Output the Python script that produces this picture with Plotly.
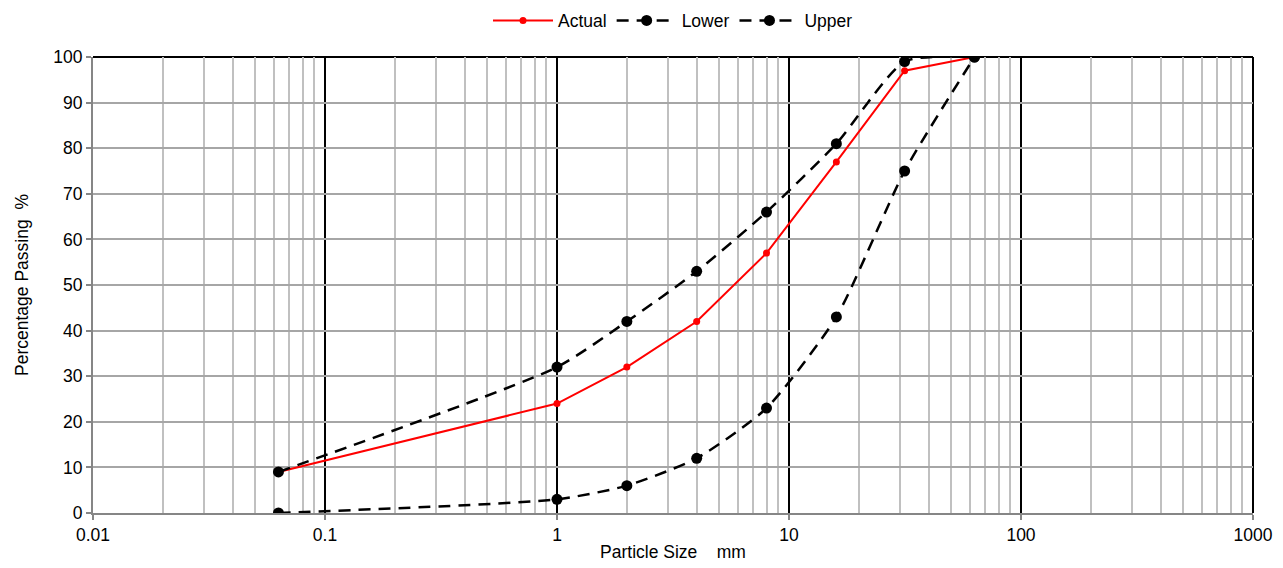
import plotly.graph_objects as go

sizes = [0.063, 1, 2, 4, 8, 16, 31.5, 63]
actual = [9, 24, 32, 42, 57, 77, 97, 100]
lower = [9, 32, 42, 53, 66, 81, 99, 100]
upper = [0, 3, 6, 12, 23, 43, 75, 100]

x_ticks = [0.01, 0.1, 1, 10, 100, 1000]
x_labels = ["0.01", "0.1", "1", "10", "100", "1000"]

font = dict(family="Liberation Sans, Arial, sans-serif", size=17.5, color="#000000")

fig = go.Figure()
fig.add_trace(go.Scatter(x=sizes, y=actual, name="Actual", mode="lines+markers",
                         line=dict(color="#ff0000", width=2),
                         marker=dict(color="#ff0000", size=7)))
fig.add_trace(go.Scatter(x=sizes, y=lower, name="Lower", mode="lines+markers",
                         line=dict(color="#000000", width=2.5, dash="12px,8px", shape="spline", smoothing=0.6),
                         marker=dict(color="#000000", size=11)))
fig.add_trace(go.Scatter(x=sizes, y=upper, name="Upper", mode="lines+markers",
                         line=dict(color="#000000", width=2.5, dash="12px,8px", shape="spline", smoothing=0.6),
                         marker=dict(color="#000000", size=11)))

fig.update_layout(
    width=1283, height=568,
    margin=dict(l=85, r=38, t=49, b=63, autoexpand=False),
    paper_bgcolor="white", plot_bgcolor="white",
    font=font,
    showlegend=True,
    legend=dict(orientation="h", x=0.5, xanchor="center", y=1.08, yanchor="middle",
                yref="paper", font=font, itemwidth=60),
    xaxis=dict(type="log", range=[-2, 3], tickvals=x_ticks, ticktext=x_labels,
               showgrid=True, gridcolor="#000000", gridwidth=2,
               minor=dict(dtick="D1", showgrid=True, gridcolor="#c0c0c0", gridwidth=2, ticks=""),
               showline=True, linecolor="#868686", linewidth=2,
               ticks="outside", tickcolor="#868686", ticklen=5, tickwidth=2,
               title=dict(text="Particle Size    mm", font=font, standoff=2),
               zeroline=False),
    yaxis=dict(range=[0, 100], dtick=10, tick0=0,
               showgrid=True, gridcolor="#a6a6a6", gridwidth=2,
               showline=True, linecolor="#868686", linewidth=2,
               ticks="outside", tickcolor="#868686", ticklen=5, tickwidth=2,
               title=dict(text="Percentage Passing  %", font=font, standoff=20),
               zeroline=False),
)
fig.add_shape(type="line", xref="paper", yref="paper", x0=0, x1=1, y0=1, y1=1,
              line=dict(color="#000000", width=2), layer="below")
fig.add_shape(type="line", xref="paper", yref="paper", x0=1, x1=1, y0=0, y1=1,
              line=dict(color="#000000", width=2), layer="below")

fig.write_html("out.html")
